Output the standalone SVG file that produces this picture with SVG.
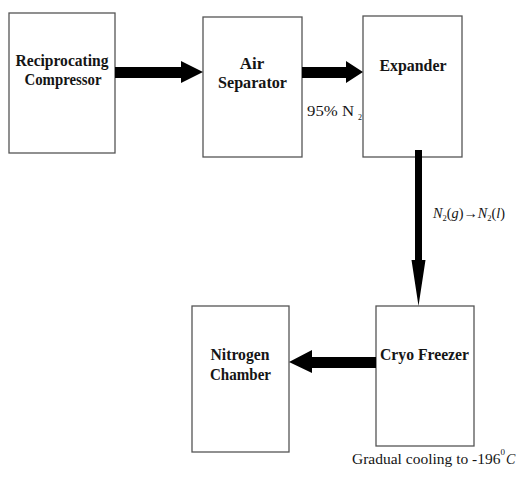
<svg xmlns="http://www.w3.org/2000/svg" width="518" height="482" viewBox="0 0 518 482">
<style>
.box{fill:#fff;stroke:#555;stroke-width:1.3}
.lbl{font-family:"Liberation Serif","Times New Roman",serif;font-weight:bold;font-size:17px;fill:#151515;text-anchor:middle}
.txt{font-family:"Liberation Serif","Times New Roman",serif;fill:#151515}
.arr{fill:#000}
</style>
<rect width="518" height="482" fill="#fff"/>
<g id="compressor">
<rect class="box" x="9" y="13" width="106" height="140"/>
<text class="lbl" x="62" y="66" textLength="93" lengthAdjust="spacingAndGlyphs">Reciprocating</text>
<text class="lbl" x="63" y="85" textLength="77" lengthAdjust="spacingAndGlyphs">Compressor</text>
</g>
<g id="separator">
<rect class="box" x="203" y="17" width="99" height="140"/>
<text class="lbl" x="252" y="69">Air</text>
<text class="lbl" x="252.5" y="88" textLength="69" lengthAdjust="spacingAndGlyphs">Separator</text>
</g>
<g id="expander">
<rect class="box" x="363" y="16" width="99" height="141"/>
<text class="lbl" x="413" y="71" textLength="67" lengthAdjust="spacingAndGlyphs">Expander</text>
</g>
<g id="freezer">
<rect class="box" x="376" y="306" width="98" height="140"/>
<text class="lbl" x="424.5" y="360" textLength="89" lengthAdjust="spacingAndGlyphs">Cryo Freezer</text>
</g>
<g id="chamber">
<rect class="box" x="192" y="306" width="97" height="146"/>
<text class="lbl" x="240" y="360" textLength="59" lengthAdjust="spacingAndGlyphs">Nitrogen</text>
<text class="lbl" x="240.5" y="380" textLength="61" lengthAdjust="spacingAndGlyphs">Chamber</text>
</g>
<g id="connectors">
<polygon class="arr" points="115,67 181,67 181,61 203,72 181,83 181,78 115,78"/>
<polygon class="arr" points="302,67 346,67 346,61 363,72 346,83 346,78 302,78"/>
<polygon class="arr" points="415,150 422,150 422,260 425.5,260 418.5,306 411.5,260 415,260"/>
<polygon class="arr" points="376,357 312,357 312,350 289,362 312,373 312,368 376,368"/>
</g>
<g id="labels">
<text class="txt" x="307" y="116" font-size="14" textLength="47" lengthAdjust="spacingAndGlyphs">95%  N</text>
<text class="txt" x="358" y="120" font-size="8">2</text>
<text class="txt" x="433" y="218" font-size="15" font-style="italic" textLength="72" lengthAdjust="spacingAndGlyphs">N<tspan dy="3" font-size="9" font-style="normal">2</tspan><tspan dy="-3" font-style="normal">(</tspan>g<tspan font-style="normal">)→</tspan>N<tspan dy="3" font-size="9" font-style="normal">2</tspan><tspan dy="-3" font-style="normal">(</tspan>l<tspan font-style="normal">)</tspan></text>
<text class="txt" x="352" y="464" font-size="15.5">Gradual cooling to -196<tspan dy="-9" font-size="9">0</tspan><tspan dy="9" dx="1" font-size="14" font-style="italic">C</tspan></text>
</g>
</svg>
